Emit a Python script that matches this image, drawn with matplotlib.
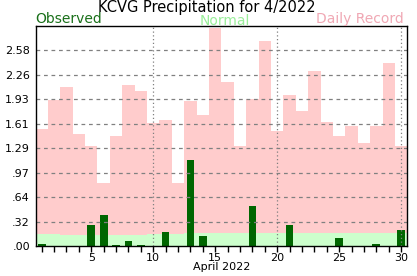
import matplotlib
matplotlib.use("Agg")
import matplotlib.pyplot as plt
import numpy as np

days = list(range(1, 31))
record = [1.545, 1.93, 2.10, 1.48, 1.325, 0.83, 1.445, 2.127, 2.04, 1.62,
          1.665, 0.83, 1.915, 1.73, 2.88, 2.16, 1.32, 1.94, 2.71, 1.52,
          1.995, 1.78, 2.31, 1.64, 1.457, 1.585, 1.365, 1.585, 2.42, 1.32]
normal = [0.155, 0.152, 0.150, 0.147, 0.143, 0.142, 0.142, 0.145, 0.150, 0.155,
          0.160, 0.162, 0.165, 0.167, 0.168, 0.170, 0.171, 0.172, 0.173, 0.174,
          0.175, 0.175, 0.175, 0.175, 0.175, 0.175, 0.175, 0.175, 0.175, 0.175]
observed = [0.03, 0, 0, 0, 0.28, 0.41, 0.01, 0.067, 0.01, 0,
            0.185, 0, 1.14, 0.136, 0, 0, 0, 0.53, 0, 0,
            0.28, 0, 0, 0, 0.11, 0, 0, 0.02, 0, 0.21]
ytick_vals = [0, 0.3225, 0.645, 0.9675, 1.29, 1.6125, 1.935, 2.2575, 2.58]
ytick_labels = [".00", ".32", ".64", ".97", "1.29", "1.61", "1.93", "2.26", "2.58"]
xtick_major = [5, 10, 15, 20, 25, 30]
title = "KCVG Precipitation for 4/2022"
xlabel = "April 2022"

fig = plt.figure(figsize=(4.17, 2.76), dpi=100)
ax = fig.add_axes([35.5/417, 1-246/276, (407.3-35.5)/417, (246-26)/276])

ax.bar(days, record, width=1.0, color="#ffcccc", linewidth=0, zorder=1)
ax.bar(days, normal, width=1.0, color="#ccffcc", linewidth=0, zorder=2)
ax.bar(days, observed, width=0.62, color="#006600", linewidth=0, zorder=3)

ax.set_xlim(0.5, 30.5)
ax.set_ylim(0, 2.9025)

ax.set_yticks(ytick_vals)
ax.set_yticklabels(ytick_labels, fontsize=8)
ax.tick_params(axis="y", length=0, pad=4)

ax.set_xticks(days, minor=True)
ax.set_xticks(xtick_major)
ax.set_xticklabels([str(v) for v in xtick_major], fontsize=8)
ax.tick_params(axis="x", which="both", direction="out", length=4, width=1, pad=1)

for v in ytick_vals[1:]:
    ax.axhline(v, color="#808080", linewidth=0.9, linestyle=(0, (3, 3)), zorder=4)
for v in [10, 20, 30]:
    ax.axvline(v, color="#808080", linewidth=0.9, linestyle=(0, (1, 2)), zorder=4)

for s in ax.spines.values():
    s.set_linewidth(1.0)
    s.set_color("black")
    s.set_zorder(5)

ax.set_xlabel(xlabel, fontsize=8, labelpad=-1)

fig.text(207/417, 1-0/276, title, ha="center", va="top", fontsize=10.5, color="black")
fig.text(35/417, 1-12/276, "Observed", ha="left", va="top", fontsize=10, color="#1a701a")
fig.text(225/417, 1-14/276, "Normal", ha="center", va="top", fontsize=10, color="#99ee99")
fig.text(404/417, 1-12/276, "Daily Record", ha="right", va="top", fontsize=10, color="#f0a8b4")

fig.savefig("out.png", dpi=100)
